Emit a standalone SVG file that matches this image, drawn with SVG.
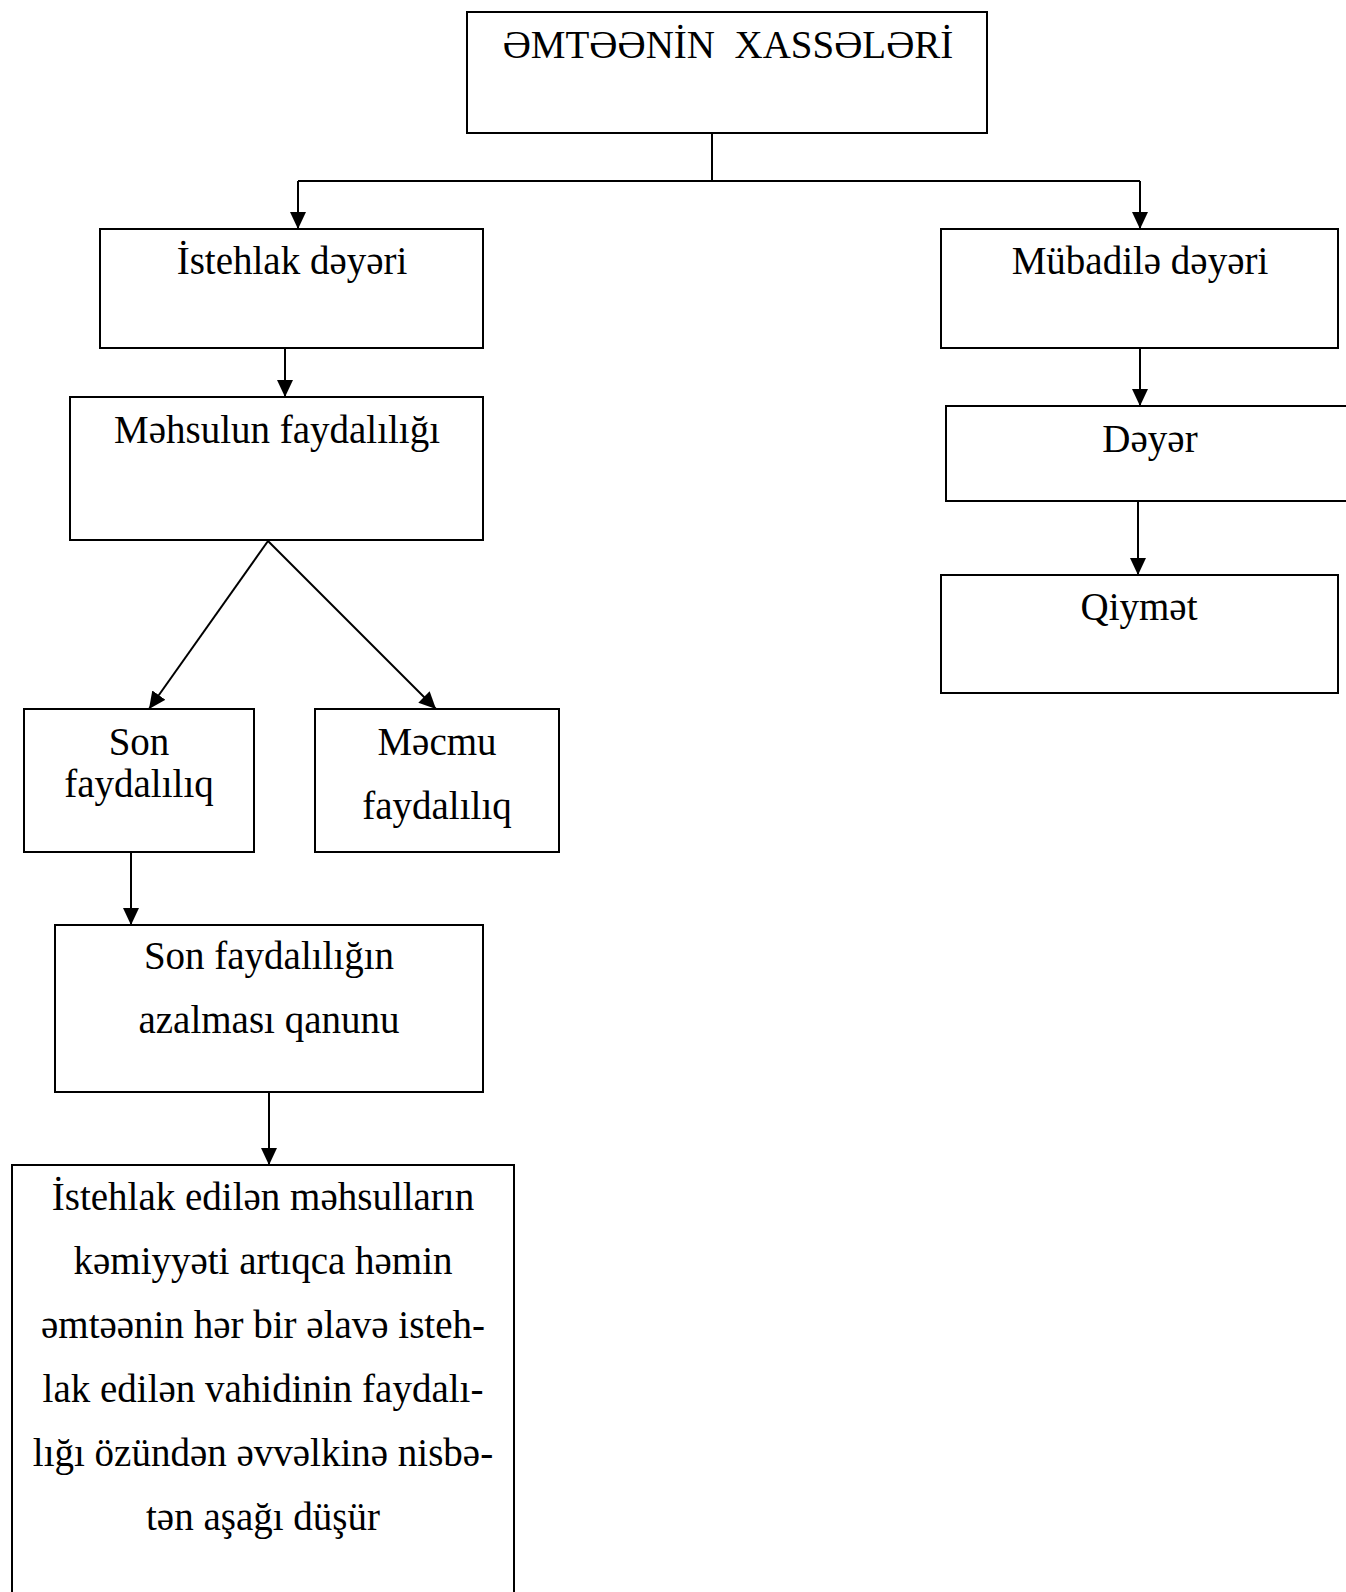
<svg xmlns="http://www.w3.org/2000/svg" width="1346" height="1592" viewBox="0 0 1346 1592">
<style>
.box{fill:#fff;stroke:#000;stroke-width:2}
.t{font-family:"Liberation Serif","Times New Roman",serif;font-size:39px;fill:#000;text-anchor:middle}
.c{fill:none;stroke:#000;stroke-width:2}
</style>
<defs>
<marker id="ah" markerUnits="userSpaceOnUse" markerWidth="17" markerHeight="16" viewBox="0 0 17 16" refX="17" refY="8" orient="auto">
<path d="M0,0 L17,8 L0,16 Z" fill="#000"/>
</marker>
</defs>
<rect width="1346" height="1592" fill="#fff"/>
<g id="connectors">
<path class="c" d="M712,133 V181"/>
<path class="c" d="M298,181 H1140"/>
<path class="c" d="M298,181 V229" marker-end="url(#ah)"/>
<path class="c" d="M1140,181 V229" marker-end="url(#ah)"/>
<path class="c" d="M285,348 V397" marker-end="url(#ah)"/>
<path class="c" d="M1140,348 V406" marker-end="url(#ah)"/>
<path class="c" d="M1138,501 V575" marker-end="url(#ah)"/>
<path class="c" d="M268,541 L149,709" marker-end="url(#ah)"/>
<path class="c" d="M268,541 L436,709" marker-end="url(#ah)"/>
<path class="c" d="M131,852 V925" marker-end="url(#ah)"/>
<path class="c" d="M269,1092 V1165" marker-end="url(#ah)"/>
</g>
<g id="n-root"><rect class="box" x="467" y="12" width="520" height="121"/><text class="t" x="728" y="58" xml:space="preserve">ƏMTƏƏNİN  XASSƏLƏRİ</text></g>
<g id="n-istehlak"><rect class="box" x="100" y="229" width="383" height="119"/><text class="t" x="292" y="274">İstehlak dəyəri</text></g>
<g id="n-mubadile"><rect class="box" x="941" y="229" width="397" height="119"/><text class="t" x="1140" y="274">Mübadilə dəyəri</text></g>
<g id="n-mehsul"><rect class="box" x="70" y="397" width="413" height="143"/><text class="t" x="277" y="443">Məhsulun faydalılığı</text></g>
<g id="n-deyer"><rect class="box" x="946" y="406" width="410" height="95"/><text class="t" x="1150" y="452">Dəyər</text></g>
<g id="n-qiymet"><rect class="box" x="941" y="575" width="397" height="118"/><text class="t" x="1139" y="620">Qiymət</text></g>
<g id="n-son"><rect class="box" x="24" y="709" width="230" height="143"/><text class="t" x="139" y="755">Son</text><text class="t" x="139" y="797">faydalılıq</text></g>
<g id="n-mecmu"><rect class="box" x="315" y="709" width="244" height="143"/><text class="t" x="437" y="755">Məcmu</text><text class="t" x="437" y="819">faydalılıq</text></g>
<g id="n-qanun"><rect class="box" x="55" y="925" width="428" height="167"/><text class="t" x="269" y="969">Son faydalılığın</text><text class="t" x="269" y="1033">azalması qanunu</text></g>
<g id="n-izah"><rect class="box" x="12" y="1165" width="502" height="460"/>
<text class="t" x="263" y="1210">İstehlak edilən məhsulların</text>
<text class="t" x="263" y="1274">kəmiyyəti artıqca həmin</text>
<text class="t" x="263" y="1338">əmtəənin hər bir əlavə isteh-</text>
<text class="t" x="263" y="1402">lak edilən vahidinin faydalı-</text>
<text class="t" x="263" y="1466">lığı özündən əvvəlkinə nisbə-</text>
<text class="t" x="263" y="1530">tən aşağı düşür</text>
</g>
</svg>
